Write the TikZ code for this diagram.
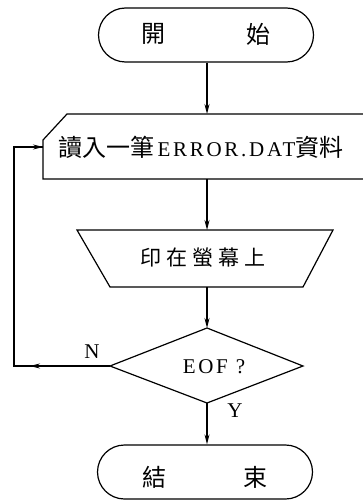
\documentclass[tikz,border=0pt]{standalone}
\usepackage{fontspec}
\newfontfamily\cjk{Noto Sans CJK TC}
\newfontfamily\latf{Liberation Serif}
\newfontfamily\latsp[LetterSpace=13]{Liberation Serif}
\usetikzlibrary{shapes.misc,arrows.meta}
\begin{document}
\begin{tikzpicture}[x=1pt,y=-1pt,line width=1.2pt,
  arr/.style={-{Stealth[length=10pt,width=5pt]}},
  term/.style={draw,rounded rectangle,minimum width=215pt,minimum height=54pt,inner sep=0pt},
  cj/.style={font=\cjk\fontsize{24}{24}\selectfont,inner sep=0pt},
  lat/.style={font=\latf\fontsize{21}{21}\selectfont,inner sep=0pt}]
\useasboundingbox (0,0) rectangle (363,500);
% start
\node[term] (start) at (206,35) {};
\node[cj] (t1) at (153,34) {開};
\node[cj] (t2) at (258,34) {始};
% input
\draw (363,114) -- (67,114) -- (43,140) -- (43,179) -- (363,179);
\coordinate (intop) at (207,114);
\coordinate (inbot) at (207,179);
\coordinate (inleft) at (43,147);
\node[inner sep=0pt] (intext) at (201,147) {{\cjk\fontsize{24}{24}\selectfont 讀入一筆}\kern3pt{\latsp\fontsize{21}{21}\selectfont ERROR.DAT}{\cjk\fontsize{24}{24}\selectfont 資料}};
% trapezoid
\draw (77,230) -- (333,230) -- (303,287) -- (110,287) -- cycle;
\coordinate (trtop) at (207,230);
\coordinate (trbot) at (207,287);
\node[inner sep=0pt] (trtext) at (203,258) {\cjk\fontsize{21}{21}\selectfont 印\kern5pt 在\kern5pt 螢\kern5pt 幕\kern5pt 上};
% diamond
\draw (207,328) -- (303,366) -- (207,403) -- (110,366) -- cycle;
\coordinate (dtop) at (207,328);
\coordinate (dbot) at (207,403);
\coordinate (dleft) at (110,366);
\node[inner sep=0pt] (eof) at (214,367) {\latsp\fontsize{21}{21}\selectfont EOF ?};
\node[lat] (nlab) at (92,352) {N};
\node[lat] (ylab) at (235,411) {Y};
% end
\node[term] (stop) at (205,472) {};
\node[cj] (t3) at (154,477) {結};
\node[cj] (t4) at (255,477) {束};
% connectors
\draw[arr] (start.south -| intop) -- (intop);
\draw[arr] (inbot) -- (trtop);
\draw[arr] (trbot) -- (dtop);
\draw[arr] (dbot) -- (stop.north -| dbot);
\coordinate (corner) at (14,366);
\coordinate (ntip) at (30,366);
\draw (dleft) -- (corner) |- (inleft);
\draw[arr] (dleft) -- (ntip);
\draw[arr] (corner |- inleft) -- (inleft);
\end{tikzpicture}
\end{document}
